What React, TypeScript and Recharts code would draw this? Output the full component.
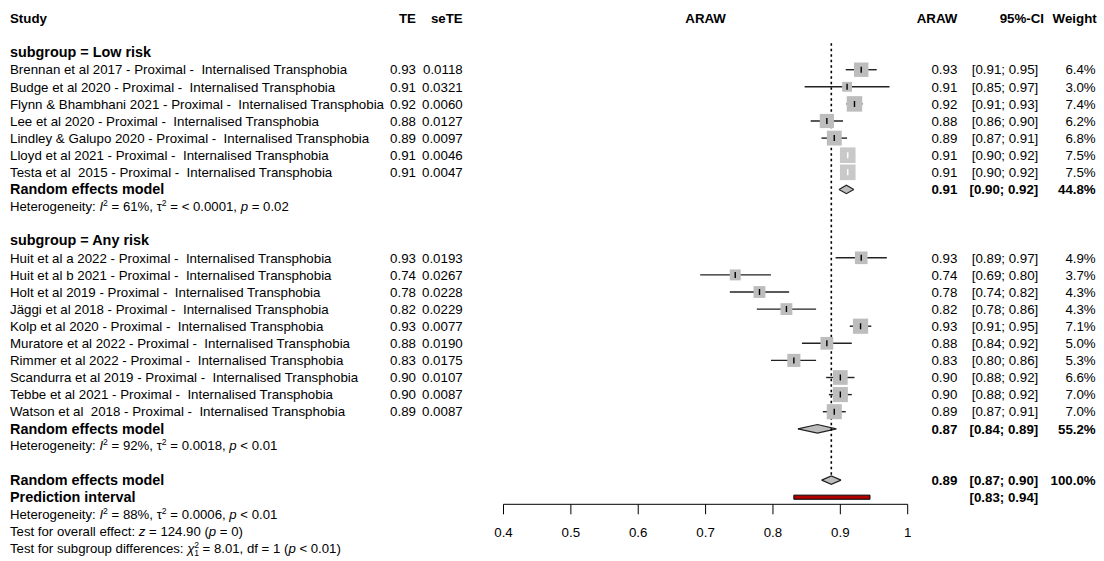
import React from 'react';
import {
  ComposedChart,
  Scatter,
  Area,
  XAxis,
  YAxis,
  ErrorBar,
  ReferenceLine,
  ReferenceArea,
} from 'recharts';

// ---- data ----
const subgroupLabels = ['subgroup = Low risk', 'subgroup = Any risk'];

const lowStudies = [
  'Brennan et al 2017 - Proximal -  Internalised Transphobia',
  'Budge et al 2020 - Proximal -  Internalised Transphobia',
  'Flynn & Bhambhani 2021 - Proximal -  Internalised Transphobia',
  'Lee et al 2020 - Proximal -  Internalised Transphobia',
  'Lindley & Galupo 2020 - Proximal -  Internalised Transphobia',
  'Lloyd et al 2021 - Proximal -  Internalised Transphobia',
  'Testa et al  2015 - Proximal -  Internalised Transphobia',
];
const lowTE = [0.931, 0.91, 0.921, 0.88, 0.891, 0.911, 0.911];
const lowSE = ['0.0118', '0.0321', '0.0060', '0.0127', '0.0097', '0.0046', '0.0047'];
const lowLower = [0.908, 0.847, 0.909, 0.856, 0.872, 0.902, 0.902];
const lowUpper = [0.954, 0.973, 0.933, 0.904, 0.91, 0.92, 0.92];
const lowWeight = [6.4, 3.0, 7.4, 6.2, 6.8, 7.5, 7.5];

const anyStudies = [
  'Huit et al a 2022 - Proximal -  Internalised Transphobia',
  'Huit et al b 2021 - Proximal -  Internalised Transphobia',
  'Holt et al 2019 - Proximal -  Internalised Transphobia',
  'Jäggi et al 2018 - Proximal -  Internalised Transphobia',
  'Kolp et al 2020 - Proximal -  Internalised Transphobia',
  'Muratore et al 2022 - Proximal -  Internalised Transphobia',
  'Rimmer et al 2022 - Proximal -  Internalised Transphobia',
  'Scandurra et al 2019 - Proximal -  Internalised Transphobia',
  'Tebbe et al 2021 - Proximal -  Internalised Transphobia',
  'Watson et al  2018 - Proximal -  Internalised Transphobia',
];
const anyTE = [0.931, 0.744, 0.78, 0.82, 0.93, 0.88, 0.831, 0.9, 0.9, 0.891];
const anySE = ['0.0193', '0.0267', '0.0228', '0.0229', '0.0077', '0.0190', '0.0175', '0.0107', '0.0087', '0.0087'];
const anyLower = [0.893, 0.692, 0.736, 0.776, 0.914, 0.843, 0.797, 0.879, 0.883, 0.874];
const anyUpper = [0.969, 0.797, 0.824, 0.864, 0.946, 0.917, 0.864, 0.921, 0.917, 0.908];
const anyWeight = [4.9, 3.7, 4.3, 4.3, 7.1, 5.0, 5.3, 6.6, 7.0, 7.0];

// pooled: low risk, any risk, overall
const pooledTE = [0.909, 0.866, 0.8866];
const pooledLower = [0.898, 0.837, 0.8723];
const pooledUpper = [0.92, 0.894, 0.901];
const pooledWeight = ['44.8%', '55.2%', '100.0%'];
const predictionInterval = [0.831, 0.944];

const xTicks = [0.4, 0.5, 0.6, 0.7, 0.8, 0.9, 1];

type Seg = { t: string; it?: boolean; sup?: boolean; sub?: boolean; dx?: number };
const hetLow: Seg[] = [
  { t: 'Heterogeneity: ' }, { t: 'I', it: true }, { t: '2', sup: true }, { t: ' = 61%, τ' }, { t: '2', sup: true },
  { t: ' = < 0.0001, ' }, { t: 'p', it: true }, { t: ' = 0.02' },
];
const hetAny: Seg[] = [
  { t: 'Heterogeneity: ' }, { t: 'I', it: true }, { t: '2', sup: true }, { t: ' = 92%, τ' }, { t: '2', sup: true },
  { t: ' = 0.0018, ' }, { t: 'p', it: true }, { t: ' < 0.01' },
];
const hetAll: Seg[] = [
  { t: 'Heterogeneity: ' }, { t: 'I', it: true }, { t: '2', sup: true }, { t: ' = 88%, τ' }, { t: '2', sup: true },
  { t: ' = 0.0006, ' }, { t: 'p', it: true }, { t: ' < 0.01' },
];
const testOverall: Seg[] = [
  { t: 'Test for overall effect: ' }, { t: 'z', it: true }, { t: ' = 124.90 (' }, { t: 'p', it: true }, { t: ' = 0)' },
];
const testSubgroup: Seg[] = [
  { t: 'Test for subgroup differences: ' }, { t: 'χ', it: true }, { t: '2', sup: true }, { t: '1', sub: true, dx: -5 },
  { t: ' = 8.01, df = 1 (' }, { t: 'p', it: true }, { t: ' < 0.01)' },
];

// ---- layout ----
const FONT = '"Liberation Sans", Arial, sans-serif';
const FS = 13.3;
const FS_LABEL = 14.4;
const FS_NOTE = 13.2;
const PX_PER_UNIT = 673.7; // pixels per 1.0 on the x axis, only used to pick white CI lines
const COL = { study: 10, te: 416, se: 462.7, mid: 705.6, araw: 957.3, ci: 1038.3, ciHead: 1044, w: 1095.7, wHead: 1096.7 };

type RowSpec =
  | { kind: 'header' }
  | { kind: 'group'; label: string }
  | { kind: 'study'; name: string; te: number; se: string; lo: number; hi: number; w: number }
  | { kind: 'pooled'; te: number; lo: number; hi: number; w: string }
  | { kind: 'pred'; lo: number; hi: number }
  | { kind: 'note'; segs: Seg[] };

const boxSide = (w: number) => 5.7 * Math.sqrt(w);

const rows: Record<number, RowSpec> = {};
const studyPoints: { x: number; row: number; w: number; err: number[]; inside: boolean }[] = [];
const pooledRows: number[] = [];
let r = 0;
rows[r] = { kind: 'header' };
r += 2;
const groups = [
  { names: lowStudies, te: lowTE, se: lowSE, lo: lowLower, hi: lowUpper, w: lowWeight, het: hetLow },
  { names: anyStudies, te: anyTE, se: anySE, lo: anyLower, hi: anyUpper, w: anyWeight, het: hetAny },
];
groups.forEach((g, gi) => {
  rows[r++] = { kind: 'group', label: subgroupLabels[gi] };
  g.names.forEach((name, i) => {
    rows[r] = { kind: 'study', name, te: g.te[i], se: g.se[i], lo: g.lo[i], hi: g.hi[i], w: g.w[i] };
    studyPoints.push({
      x: g.te[i],
      row: r,
      w: g.w[i],
      err: [g.te[i] - g.lo[i], g.hi[i] - g.te[i]],
      inside: (g.hi[i] - g.lo[i]) * PX_PER_UNIT < boxSide(g.w[i]),
    });
    r++;
  });
  pooledRows.push(r);
  rows[r] = { kind: 'pooled', te: pooledTE[gi], lo: pooledLower[gi], hi: pooledUpper[gi], w: pooledWeight[gi] };
  r++;
  rows[r++] = { kind: 'note', segs: g.het };
  r++;
});
pooledRows.push(r);
rows[r] = { kind: 'pooled', te: pooledTE[2], lo: pooledLower[2], hi: pooledUpper[2], w: pooledWeight[2] };
r++;
const predRow = r;
rows[r++] = { kind: 'pred', lo: predictionInterval[0], hi: predictionInterval[1] };
rows[r++] = { kind: 'note', segs: hetAll };
rows[r++] = { kind: 'note', segs: testOverall };
rows[r++] = { kind: 'note', segs: testSubgroup };
const rowTicks = Object.keys(rows).map(Number);

const blackCI = studyPoints.filter((p) => !p.inside);
const whiteCI = studyPoints.filter((p) => p.inside);

const diamonds = pooledRows.map((row, i) => [
  { x: pooledLower[i], band: [row, row] },
  { x: pooledTE[i], band: [row - 0.25, row + 0.25] },
  { x: pooledUpper[i], band: [row, row] },
]);

const fmt = (v: number) => v.toFixed(2);

function Rich({ x, y, segs, size }: { x: number; y: number; segs: Seg[]; size: number }) {
  let shift = 0;
  return (
    <text x={x} y={y} fontSize={size} fontFamily={FONT} fill="#000" style={{ whiteSpace: 'pre' }}>
      {segs.map((s, i) => {
        const target = s.sup ? -5 : s.sub ? 3 : 0;
        const dy = target - shift;
        shift = target;
        return (
          <tspan
            key={i}
            dy={dy}
            dx={s.dx}
            fontStyle={s.it ? 'italic' : undefined}
            fontSize={s.sup || s.sub ? size * 0.65 : undefined}
          >
            {s.t}
          </tspan>
        );
      })}
    </text>
  );
}

function T(props: {
  x: number;
  y: number;
  anchor?: 'start' | 'end' | 'middle';
  bold?: boolean;
  size?: number;
  children: React.ReactNode;
}) {
  return (
    <text
      x={props.x}
      y={props.y + 4.7}
      textAnchor={props.anchor || 'start'}
      fontWeight={props.bold ? 'bold' : 'normal'}
      fontSize={props.size || FS}
      fontFamily={FONT}
      fill="#000"
      style={{ whiteSpace: 'pre' }}
    >
      {props.children}
    </text>
  );
}

const RowText = (props: any) => {
  const y = props.y;
  const spec = rows[props.payload.value];
  if (!spec) return null;
  switch (spec.kind) {
    case 'header':
      return (
        <g>
          <T x={COL.study} y={y} bold>Study</T>
          <T x={COL.te} y={y} anchor="end" bold>TE</T>
          <T x={COL.se} y={y} anchor="end" bold>seTE</T>
          <T x={COL.mid} y={y} anchor="middle" bold>ARAW</T>
          <T x={COL.araw} y={y} anchor="end" bold>ARAW</T>
          <T x={COL.ciHead} y={y} anchor="end" bold>95%-CI</T>
          <T x={COL.wHead} y={y} anchor="end" bold>Weight</T>
        </g>
      );
    case 'group':
      return <T x={COL.study} y={y} bold size={FS_LABEL}>{spec.label}</T>;
    case 'study':
      return (
        <g>
          <T x={COL.study} y={y}>{spec.name}</T>
          <T x={COL.te} y={y} anchor="end">{fmt(spec.te)}</T>
          <T x={COL.se} y={y} anchor="end">{spec.se}</T>
          <T x={COL.araw} y={y} anchor="end">{fmt(spec.te)}</T>
          <T x={COL.ci} y={y} anchor="end">{`[${fmt(spec.lo)}; ${fmt(spec.hi)}]`}</T>
          <T x={COL.w} y={y} anchor="end">{`${spec.w.toFixed(1)}%`}</T>
        </g>
      );
    case 'pooled':
      return (
        <g>
          <T x={COL.study} y={y} bold size={FS_LABEL}>Random effects model</T>
          <T x={COL.araw} y={y} anchor="end" bold>{fmt(spec.te)}</T>
          <T x={COL.ci} y={y} anchor="end" bold>{`[${fmt(spec.lo)}; ${fmt(spec.hi)}]`}</T>
          <T x={COL.w} y={y} anchor="end" bold>{spec.w}</T>
        </g>
      );
    case 'pred':
      return (
        <g>
          <T x={COL.study} y={y} bold size={FS_LABEL}>Prediction interval</T>
          <T x={COL.ci} y={y} anchor="end" bold>{`[${fmt(spec.lo)}; ${fmt(spec.hi)}]`}</T>
        </g>
      );
    case 'note':
      return <Rich x={COL.study} y={y + 4.3} segs={spec.segs} size={FS_NOTE} />;
  }
  return null;
};

const SquareShape = (p: any) => {
  const s = boxSide(p.payload.w);
  return (
    <rect
      x={p.cx - s / 2}
      y={p.cy - s / 2}
      width={s}
      height={s}
      fill={p.payload.inside ? '#c9c9c9' : '#bdbdbd'}
    />
  );
};

const tickShape = (color: string) => (p: any) => (
  <line x1={p.cx} x2={p.cx} y1={p.cy - 3} y2={p.cy + 3} stroke={color} strokeWidth={1.4} />
);

export default function App() {
  return (
    <div style={{ position: 'absolute', left: 0, top: 0, width: 1104, height: 561, background: '#fff' }}>
      <ComposedChart
        width={1104}
        height={561}
        margin={{ top: 9.85, right: 196.3, bottom: 26.7, left: 0 }}
      >
        <XAxis
          dataKey="x"
          type="number"
          domain={[0.4, 1]}
          ticks={xTicks}
          allowDataOverflow
          interval={0}
          tickSize={10}
          tickMargin={13}
          height={30}
          stroke="#000"
          tick={{ fill: '#000', fontSize: FS, fontFamily: FONT }}
          tickFormatter={(v) => String(v)}
        />
        <YAxis
          dataKey="row"
          type="number"
          domain={[-0.5, 28.415]}
          reversed
          allowDataOverflow
          ticks={rowTicks}
          interval={0}
          tick={RowText}
          tickLine={false}
          axisLine={false}
          width={503.5}
        />
        <ReferenceLine
          segment={[{ x: pooledTE[2], y: 1.45 }, { x: pooledTE[2], y: 26.72 }]}
          stroke="#000"
          strokeWidth={1.6}
          strokeDasharray="2.5 3"
        />
        <Scatter data={studyPoints} shape={SquareShape} isAnimationActive={false} />
        <Scatter data={blackCI} shape={tickShape('#000')} isAnimationActive={false}>
          <ErrorBar dataKey="err" direction="x" width={0} stroke="#222" strokeWidth={1.4} isAnimationActive={false} />
        </Scatter>
        <Scatter data={whiteCI} shape={tickShape('#fff')} isAnimationActive={false}>
          <ErrorBar dataKey="err" direction="x" width={0} stroke="#fff" strokeWidth={1.4} isAnimationActive={false} />
        </Scatter>
        {diamonds.map((d, i) => (
          <Area
            key={i}
            data={d}
            dataKey="band"
            type="linear"
            fill="#bdbdbd"
            fillOpacity={1}
            stroke="#222"
            strokeWidth={1.2}
            dot={false}
            activeDot={false}
            isAnimationActive={false}
          />
        ))}
        <ReferenceArea
          x1={predictionInterval[0]}
          x2={predictionInterval[1]}
          y1={predRow - 0.12}
          y2={predRow + 0.12}
          fill="#b00000"
          fillOpacity={1}
          stroke="#000"
          strokeWidth={1}
        />
      </ComposedChart>
    </div>
  );
}
